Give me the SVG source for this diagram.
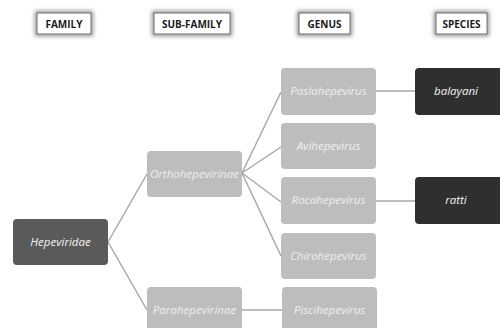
<svg xmlns="http://www.w3.org/2000/svg" width="500" height="328" viewBox="0 0 500 328">
<defs>
<filter id="glow" x="-30%" y="-60%" width="160%" height="220%">
<feGaussianBlur stdDeviation="2"/>
</filter>
<style>
.hdrglow{fill:none;stroke:#8a8a8a;stroke-width:4;filter:url(#glow)}
.hdr{fill:#ffffff;stroke:#6e6e6e;stroke-width:1}
.hdrt{font-family:"Open Sans","Noto Sans",sans-serif;font-weight:bold;font-size:10px;fill:#1a1a1a;text-anchor:middle}
.fam{fill:#5a5a5a}
.lt{fill:#bdbdbd}
.sp{fill:#2f2f2f}
.nt{font-family:"Open Sans","Noto Sans",sans-serif;font-style:italic;font-size:11.5px;text-anchor:middle}
.wt{fill:#f4f4f4}
.lwt{fill:#efefef}
.conn{stroke:#a9a9a9;stroke-width:1.5;fill:none}
</style>
</defs>
<rect width="500" height="328" fill="#ffffff"/>
<g id="headers">
<g id="h-family"><rect class="hdrglow" x="37" y="13" width="54" height="21"/><rect class="hdr" x="37" y="13" width="54" height="21"/><text class="hdrt" x="64" y="27.5">FAMILY</text></g>
<g id="h-subfamily"><rect class="hdrglow" x="154" y="13" width="76" height="21"/><rect class="hdr" x="154" y="13" width="76" height="21"/><text class="hdrt" x="192" y="27.5">SUB-FAMILY</text></g>
<g id="h-genus"><rect class="hdrglow" x="299" y="13" width="51" height="21"/><rect class="hdr" x="299" y="13" width="51" height="21"/><text class="hdrt" x="324.5" y="27.5">GENUS</text></g>
<g id="h-species"><rect class="hdrglow" x="436" y="13" width="51" height="21"/><rect class="hdr" x="436" y="13" width="51" height="21"/><text class="hdrt" x="461.5" y="27.5">SPECIES</text></g>
</g>
<g id="connectors">
<line class="conn" x1="108" y1="242" x2="147" y2="174"/>
<line class="conn" x1="108" y1="242" x2="147" y2="310"/>
<line class="conn" x1="242" y1="173" x2="281" y2="92"/>
<line class="conn" x1="242" y1="173" x2="281" y2="147"/>
<line class="conn" x1="242" y1="173" x2="281" y2="202"/>
<line class="conn" x1="242" y1="173" x2="281" y2="256"/>
<line class="conn" x1="242" y1="310" x2="282" y2="310"/>
<line class="conn" x1="376" y1="91" x2="415" y2="91"/>
<line class="conn" x1="376" y1="201" x2="415" y2="201"/>
</g>
<g id="hepeviridae"><rect class="fam" x="13" y="219" width="95" height="46" rx="4"/><text class="nt wt" x="60.5" y="246">Hepeviridae</text></g>
<g id="orthohepevirinae"><rect class="lt" x="147" y="151" width="95" height="46" rx="4"/><text class="nt lwt" x="194.5" y="178">Orthohepevirinae</text></g>
<g id="parahepevirinae"><rect class="lt" x="147" y="287" width="95" height="46" rx="4"/><text class="nt lwt" x="194.5" y="314">Parahepevirinae</text></g>
<g id="paslahepevirus"><rect class="lt" x="281" y="68" width="95" height="47" rx="4"/><text class="nt lwt" x="328.5" y="95">Paslahepevirus</text></g>
<g id="avihepevirus"><rect class="lt" x="281" y="123" width="95" height="46" rx="4"/><text class="nt lwt" x="328.5" y="150">Avihepevirus</text></g>
<g id="rocahepevirus"><rect class="lt" x="281" y="177" width="95" height="47" rx="4"/><text class="nt lwt" x="328.5" y="204">Rocahepevirus</text></g>
<g id="chirohepevirus"><rect class="lt" x="281" y="233" width="95" height="46" rx="4"/><text class="nt lwt" x="328.5" y="260">Chirohepevirus</text></g>
<g id="piscihepevirus"><rect class="lt" x="282" y="287" width="95" height="46" rx="4"/><text class="nt lwt" x="329.5" y="314">Piscihepevirus</text></g>
<g id="balayani"><rect class="sp" x="415" y="68" width="95" height="47" rx="4"/><text class="nt wt" x="456" y="95">balayani</text></g>
<g id="ratti"><rect class="sp" x="415" y="177" width="95" height="47" rx="4"/><text class="nt wt" x="456" y="204">ratti</text></g>
</svg>
